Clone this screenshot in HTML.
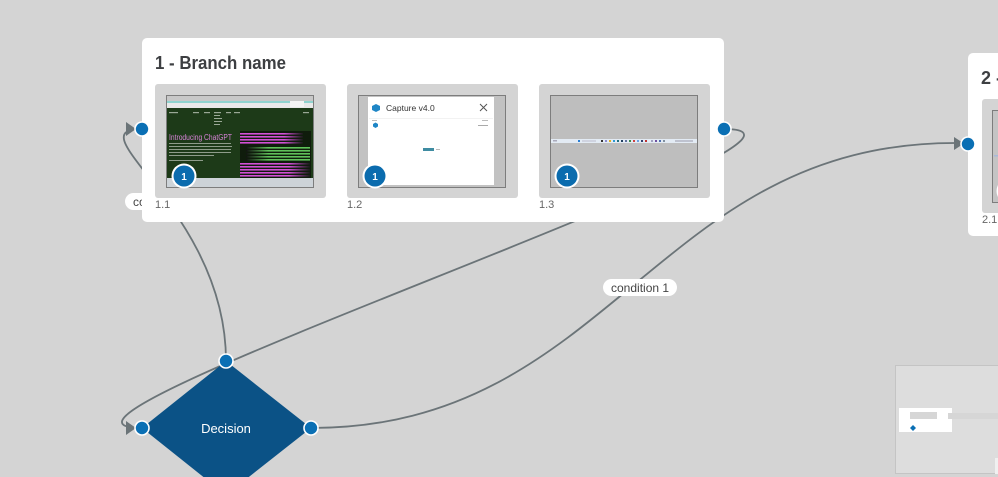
<!DOCTYPE html>
<html>
<head>
<meta charset="utf-8">
<style>
html,body{margin:0;padding:0;background:#d4d4d4;}
svg{display:block;}
text{font-family:"Liberation Sans",sans-serif;}
</style>
</head>
<body>
<svg width="998" height="477" viewBox="0 0 998 477" xmlns="http://www.w3.org/2000/svg">
  <defs>
    <linearGradient id="mag" x1="0" y1="0" x2="1" y2="0">
      <stop offset="0" stop-color="#d24fd6"/>
      <stop offset="0.7" stop-color="#d24fd6"/>
      <stop offset="1" stop-color="#1a1a1a"/>
    </linearGradient>
    <linearGradient id="grn" x1="0" y1="0" x2="1" y2="0">
      <stop offset="0" stop-color="#111"/>
      <stop offset="0.35" stop-color="#5fc25a"/>
      <stop offset="1" stop-color="#5fc25a"/>
    </linearGradient>
  </defs>

  <rect x="0" y="0" width="998" height="477" fill="#d4d4d4"/>

  <!-- connectors -->
  <g fill="none" stroke="#6b7478" stroke-width="1.8">
    <path d="M724,129 C889,129 -23,428 142,428"/>
    <path d="M311,428 C611,428 655,143 955,143"/>
    <path d="M226,361 C226,211 72,129 142,129"/>
  </g>

  <!-- label condition 2 (mostly hidden) -->
  <rect x="125" y="193" width="74" height="17" rx="8.5" fill="#fff"/>
  <text x="133" y="206" font-size="12" fill="#444">condition 2</text>

  <!-- label condition 1 -->
  <rect x="603" y="279" width="74" height="17" rx="8.5" fill="#fff"/>
  <text x="611" y="292" font-size="12" fill="#444">condition 1</text>

  <!-- Card 1 -->
  <rect x="142" y="38" width="582" height="184" rx="5" fill="#ffffff"/>
  <text x="155" y="69" font-size="18" font-weight="bold" fill="#3d3f42" textLength="131" lengthAdjust="spacingAndGlyphs">1 - Branch name</text>

  <!-- tile 1 -->
  <rect x="155" y="84" width="171" height="114" rx="3" fill="#d4d4d4"/>
  <rect x="166.5" y="95.5" width="147" height="92" fill="#c8c8c8" stroke="#7d7d7d" stroke-width="1"/>
  <rect x="167" y="101" width="146" height="2" fill="#8fd3cf"/>
  <rect x="167" y="103" width="146" height="5" fill="#e9e9e9"/>
  <rect x="290" y="101" width="14" height="6" fill="#f4f4f4"/>
  <rect x="167" y="108" width="146" height="70" fill="#1d3a18"/>
  <rect x="167" y="178" width="146" height="9" fill="#cdd3d8"/>
  <g fill="#9aa896">
    <rect x="169" y="112" width="9" height="1.2"/>
    <rect x="193" y="112" width="6" height="1.2"/>
    <rect x="204" y="112" width="6" height="1.2"/>
    <rect x="214" y="112" width="7" height="1.2"/>
    <rect x="226" y="112" width="5" height="1.2"/>
    <rect x="234" y="112" width="6" height="1.2"/>
    <rect x="214" y="115" width="6" height="1"/>
    <rect x="214" y="118" width="8" height="1"/>
    <rect x="214" y="121" width="8" height="1"/>
    <rect x="214" y="124" width="6" height="1"/>
    <rect x="303" y="112" width="6" height="1.2"/>
  </g>
  <text x="169" y="140" font-size="8" fill="#d983d9" textLength="63" lengthAdjust="spacingAndGlyphs">Introducing ChatGPT</text>
  <g fill="#8e9c8a">
    <rect x="169" y="143" width="62" height="1"/>
    <rect x="169" y="146" width="63" height="1"/>
    <rect x="169" y="149" width="62" height="1"/>
    <rect x="169" y="152" width="62" height="1"/>
    <rect x="169" y="155" width="45" height="1"/>
    <rect x="169" y="160" width="34" height="1"/>
  </g>
  <rect x="240" y="131" width="71" height="47" fill="#0f1c0c"/>
  <g fill="url(#mag)">
    <rect x="240" y="133" width="63" height="1.6"/>
    <rect x="240" y="136" width="63" height="1.6"/>
    <rect x="240" y="139" width="63" height="1.6"/>
    <rect x="240" y="142" width="63" height="1.6"/>
    <rect x="240" y="163" width="70" height="1.6"/>
    <rect x="240" y="166" width="70" height="1.6"/>
    <rect x="240" y="169" width="70" height="1.6"/>
    <rect x="240" y="172" width="70" height="1.6"/>
    <rect x="240" y="175" width="70" height="1.6"/>
  </g>
  <g fill="url(#grn)">
    <rect x="246" y="147" width="64" height="1.6"/>
    <rect x="246" y="150" width="64" height="1.6"/>
    <rect x="246" y="153" width="64" height="1.6"/>
    <rect x="246" y="156" width="64" height="1.6"/>
    <rect x="246" y="159" width="64" height="1.6"/>
  </g>
  <circle cx="184" cy="176" r="12.5" fill="#fff"/>
  <circle cx="184" cy="176" r="10.5" fill="#0b6cae"/>
  <text x="184" y="180" font-size="10" font-weight="bold" fill="#fff" text-anchor="middle">1</text>
  <text x="155" y="208" font-size="11" fill="#666">1.1</text>

  <!-- tile 2 -->
  <rect x="347" y="84" width="171" height="114" rx="3" fill="#d4d4d4"/>
  <rect x="358.5" y="95.5" width="147" height="92" fill="#c2c2c2" stroke="#7d7d7d" stroke-width="1"/>
  <rect x="368" y="97" width="126" height="88" fill="#ffffff"/>
  <path d="M372,106 l4,-2 l4,2 l0,4 l-4,2 l-4,-2 z" fill="#1f86c6"/>
  <text x="386" y="111" font-size="8.5" fill="#333">Capture v4.0</text>
  <path d="M480,104 l7,7 M487,104 l-7,7" stroke="#555" stroke-width="1"/>
  <rect x="369" y="118" width="124" height="0.8" fill="#eeeeee"/>
  <rect x="372" y="120" width="5" height="1" fill="#bbb"/>
  <rect x="482" y="120" width="6" height="1" fill="#bbb"/>
  <path d="M373,124 l2.5,-1.5 l2.5,1.5 l0,2.5 l-2.5,1.5 l-2.5,-1.5 z" fill="#1f86c6"/>
  <rect x="478" y="125" width="10" height="1" fill="#aaa"/>
  <rect x="423" y="148" width="11" height="3" fill="#3f8ca2"/>
  <rect x="436" y="149" width="4" height="1" fill="#bbb"/>
  <circle cx="375" cy="176" r="12.5" fill="#fff"/>
  <circle cx="375" cy="176" r="10.5" fill="#0b6cae"/>
  <text x="375" y="180" font-size="10" font-weight="bold" fill="#fff" text-anchor="middle">1</text>
  <text x="347" y="208" font-size="11" fill="#666">1.2</text>

  <!-- tile 3 -->
  <rect x="539" y="84" width="171" height="114" rx="3" fill="#d4d4d4"/>
  <rect x="550.5" y="95.5" width="147" height="92" fill="#bebebe" stroke="#7d7d7d" stroke-width="1"/>
  <rect x="551" y="139" width="146" height="4" fill="#e3ebf4"/>
  <g>
    <rect x="553" y="140" width="4" height="1.5" fill="#aab"/>
    <rect x="578" y="140" width="2" height="2" fill="#2a7fd4"/>
    <rect x="582" y="140.5" width="14" height="1" fill="#bbc"/>
    <rect x="601" y="140" width="2" height="2" fill="#333"/>
    <rect x="605" y="140" width="2" height="2" fill="#8a8ad0"/>
    <rect x="609" y="140" width="2" height="2" fill="#e0b020"/>
    <rect x="613" y="140" width="2" height="2" fill="#2a9ad4"/>
    <rect x="617" y="140" width="2" height="2" fill="#207080"/>
    <rect x="621" y="140" width="2" height="2" fill="#204060"/>
    <rect x="625" y="140" width="2" height="2" fill="#6070a0"/>
    <rect x="629" y="140" width="2" height="2" fill="#3a8a4a"/>
    <rect x="633" y="140" width="2" height="2" fill="#d04040"/>
    <rect x="637" y="140" width="2" height="2" fill="#6aa0e0"/>
    <rect x="641" y="140" width="2" height="2" fill="#304070"/>
    <rect x="645" y="140" width="2" height="2" fill="#c03030"/>
    <rect x="651" y="140" width="2" height="2" fill="#a0a0c0"/>
    <rect x="655" y="140" width="2" height="2" fill="#7050a0"/>
    <rect x="659" y="140" width="2" height="2" fill="#5070b0"/>
    <rect x="663" y="140" width="2" height="2" fill="#8090a0"/>
    <rect x="675" y="140.5" width="18" height="1" fill="#99a"/>
  </g>
  <circle cx="567" cy="176" r="12.5" fill="#fff"/>
  <circle cx="567" cy="176" r="10.5" fill="#0b6cae"/>
  <text x="567" y="180" font-size="10" font-weight="bold" fill="#fff" text-anchor="middle">1</text>
  <text x="539" y="208" font-size="11" fill="#666">1.3</text>

  <!-- Card 2 -->
  <rect x="968" y="53" width="40" height="183" rx="5" fill="#ffffff"/>
  <text x="981" y="84" font-size="18" font-weight="bold" fill="#3d3f42">2 -</text>
  <rect x="982" y="99" width="30" height="114" rx="3" fill="#d4d4d4"/>
  <rect x="992.5" y="110.5" width="20" height="92" fill="#c4c4c4" stroke="#7d7d7d" stroke-width="1"/>
  <rect x="994" y="155" width="4" height="1.5" fill="#a9b8d8"/>
  <circle cx="1009" cy="191" r="12.5" fill="#fff"/>
  <text x="982" y="223" font-size="11" fill="#666">2.1</text>

  <!-- Decision diamond -->
  <path d="M226,361 L311,428 L226,495 L142,428 Z" fill="#0b5286"/>
  <text x="226" y="433" font-size="13" fill="#ffffff" text-anchor="middle">Decision</text>

  <!-- arrowheads -->
  <g fill="#6b7478">
    <path d="M126,122 L136,129 L126,136 Z"/>
    <path d="M126,421 L136,428 L126,435 Z"/>
    <path d="M954,137 L964,143.5 L954,150 Z"/>
  </g>

  <!-- ports -->
  <g fill="#0a6fb4" stroke="#ffffff" stroke-width="1.6">
    <circle cx="142" cy="129" r="7"/>
    <circle cx="724" cy="129" r="7"/>
    <circle cx="968" cy="144" r="7"/>
    <circle cx="226" cy="361" r="7"/>
    <circle cx="142" cy="428" r="7"/>
    <circle cx="311" cy="428" r="7"/>
  </g>

  <!-- minimap -->
  <rect x="895.5" y="365.5" width="110" height="108" fill="#dddddd" stroke="#c4c4c4" stroke-width="1"/>
  <rect x="899" y="408" width="53" height="24" fill="#ffffff"/>
  <rect x="910" y="412" width="27" height="7" fill="#d6d6d6"/>
  <rect x="948" y="413" width="50" height="6" fill="#d6d6d6"/>
  <path d="M913,425 L916,428 L913,431 L910,428 Z" fill="#0a6fb4"/>
  <rect x="995" y="458" width="3" height="16" fill="#f0f0f0"/>
</svg>
</body>
</html>
